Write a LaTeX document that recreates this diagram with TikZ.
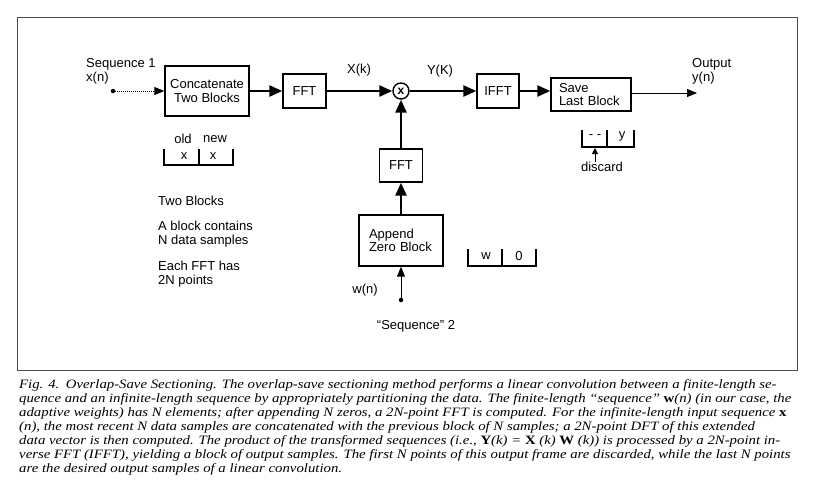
\documentclass[tikz,border=0pt]{standalone}
\usepackage{fontspec}
\setmainfont{Liberation Sans}
\newfontfamily\capfont[FakeStretch=1.155]{Liberation Serif}
\usetikzlibrary{arrows.meta}
\begin{document}
\begin{tikzpicture}[x=1pt,y=-1pt,
  blk/.style={draw,line width=1.4pt,inner sep=0pt,font=\fontsize{13}{13.5}\selectfont},
  lbl/.style={inner sep=0pt,font=\fontsize{13}{14}\selectfont,align=left},
  thk/.style={line width=2.6pt,-{Triangle[length=13pt,width=11pt]}},
  thn/.style={line width=1pt,-{Triangle[length=10pt,width=8pt]}},
  brk/.style={line width=1.3pt},
  dotc/.style={circle,fill,inner sep=0pt,minimum size=4.5pt}]
\useasboundingbox (0,0) rectangle (815,490);
\fill[white] (0,0) rectangle (815,490);
\draw[line width=0.8pt,black!70] (17,17) rectangle (797,370);

% nodes
\node[dotc] (d1) at (113,91) {};
\node[lbl,anchor=west] (seq1) at (86,71) {Sequence 1\\x(n)};
\node[blk,minimum width=84pt,minimum height=50pt,align=center] (cat) at (207,91) {Concatenate\\Two Blocks};
\node[blk,minimum width=43pt,minimum height=34pt] (fft1) at (304.5,91) {FFT};
\node[draw,circle,line width=1.4pt,minimum size=16pt,inner sep=0pt,font=\bfseries\fontsize{12}{12}\selectfont] (mul) at (401,91) {x};
\node[lbl] (Xk) at (359,70) {X(k)};
\node[lbl] (Yk) at (440,71) {Y(K)};
\node[blk,minimum width=42pt,minimum height=34pt] (ifft) at (498,91) {IFFT};
\node[blk,minimum width=80pt,minimum height=33pt,align=left,text width=64pt] (save) at (591,94.5) {Save\\Last Block};
\coordinate (out) at (697,93);
\node[lbl,anchor=west] (outl) at (692,71) {Output\\y(n)};
\node[blk,minimum width=43pt,minimum height=33pt] (fft2) at (401,165.5) {FFT};
\node[blk,minimum width=84pt,minimum height=51pt,align=left,text width=64pt] (app) at (401,240.5) {Append\\Zero Block};
\node[dotc] (d2) at (401,300) {};
\node[lbl] (wn) at (365,290) {w(n)};
\node[lbl] (seq2) at (416,326) {“Sequence” 2};

% connectors
\draw[thn,line width=1pt,densely dotted] (d1) -- (cat.west);
\draw[thk] (cat.east) -- (fft1.west);
\draw[thk] (fft1.east) -- (mul.west);
\draw[thk] (mul.east) -- (ifft.west);
\draw[thk] (ifft.east) -- (save.west |- ifft.east);
\draw[thn] (save.east |- out) -- (out);
\draw[thk] (fft2.north) -- (mul.south);
\draw[thk] (app.north) -- (fft2.south);
\draw[thn] (d2) -- (app.south);

% old/new bracket
\node[lbl] (old) at (183,139) {old};
\node[lbl] (new) at (215,139) {new};
\draw[brk] (164,149) -- (164,165) -- (233,165) -- (233,149);
\draw[brk] (199,149) -- (199,165);
\node[lbl] (x1) at (184,156) {x};
\node[lbl] (x2) at (213,156) {x};

% left notes
\node[lbl,anchor=west] (tb) at (158,201) {Two Blocks};
\node[lbl,anchor=west] (abc) at (158,234) {A block contains\\N data samples};
\node[lbl,anchor=west] (eff) at (158,274) {Each FFT has\\2N points};

% w|0 bracket
\draw[brk] (468,249) -- (468,266) -- (536,266) -- (536,249);
\draw[brk] (502,249) -- (502,266);
\node[lbl] (wl) at (486,256) {w};
\node[lbl] (zl) at (519,256) {0};

% --|y bracket
\draw[brk] (582,130) -- (582,147) -- (634,147) -- (634,130);
\draw[brk] (607,130) -- (607,147);
\node[lbl] (dd) at (595,137) {- -};
\node[lbl] (yl) at (622,136) {y};
\coordinate (dtop) at (595,148);
\node[lbl] (disc) at (602,167) {discard};
\draw[line width=1pt,-{Triangle[length=6pt,width=6pt]}] (disc.north -| dtop) -- (dtop);

% caption
\node[anchor=north west,inner sep=0pt,align=left,font=\capfont\itshape\fontsize{12.8}{14}\selectfont] (cap) at (19,379) {%
Fig. 4.\enspace Overlap-Save Sectioning. The overlap-save sectioning method performs a linear convolution between a finite-length se-\\
quence and an infinite-length sequence by appropriately partitioning the data. The finite-length “sequence” \textbf{\upshape w}(n) (in our case, the\\
adaptive weights) has N elements; after appending N zeros, a 2N-point FFT is computed. For the infinite-length input sequence \textbf{\upshape x}\\
(n), the most recent N data samples are concatenated with the previous block of N samples; a 2N-point DFT of this extended\\
data vector is then computed. The product of the transformed sequences (i.e., \textbf{\upshape Y}(k) = \textbf{\upshape X} (k) \textbf{\upshape W} (k)) is processed by a 2N-point in-\\
verse FFT (IFFT), yielding a block of output samples. The first N points of this output frame are discarded, while the last N points\\
are the desired output samples of a linear convolution.};
\end{tikzpicture}
\end{document}
